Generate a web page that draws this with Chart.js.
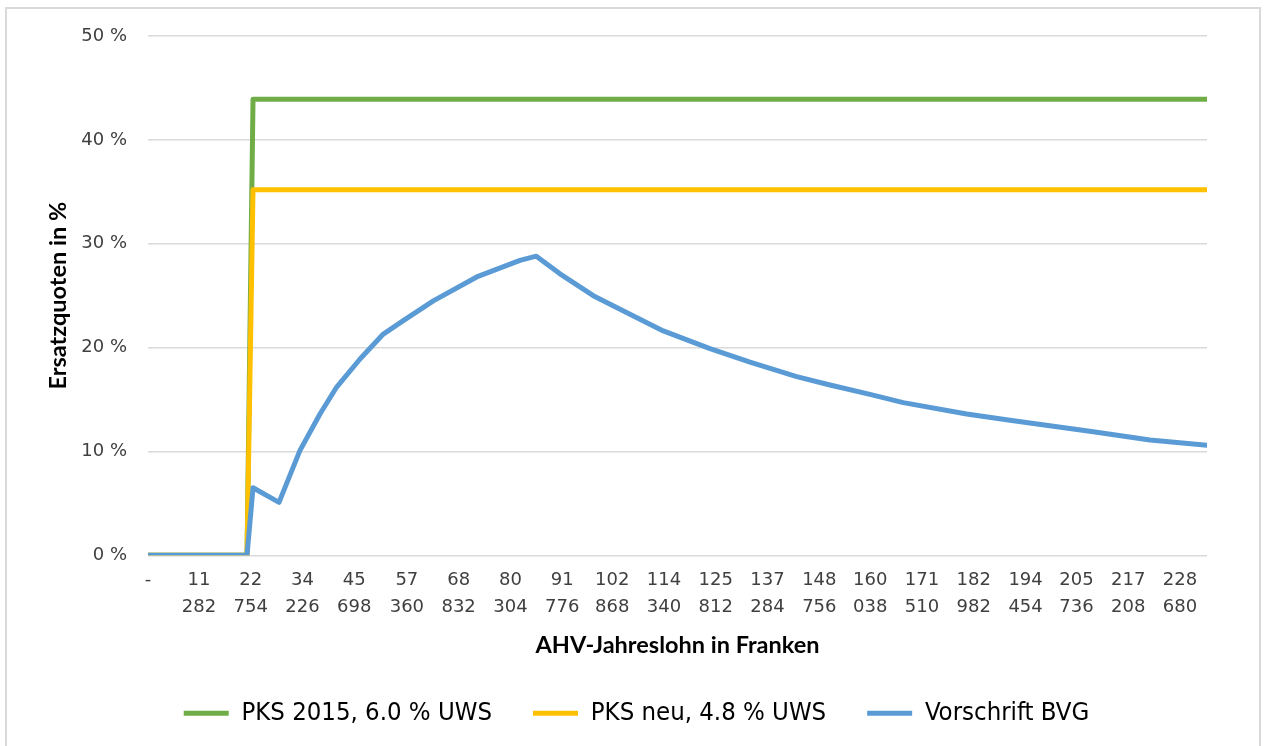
<!DOCTYPE html>
<html lang="de">
<head>
<meta charset="utf-8">
<script src="https://cdn.jsdelivr.net/npm/chart.js@4"></script>
<style>
    body { margin: 0; background: #fff; }
    #rahmen {
        position: absolute; left: 5px; top: 7px;
        width: 1252px; height: 760px;
        border: 2px solid #d9d9d9;
    }
    #wrap { position: absolute; left: 0; top: 0; width: 1265px; height: 746px; }
</style>
</head>
<body>
<div id="rahmen"></div>
<div id="wrap"><canvas id="grafik" width="1265" height="746"></canvas></div>
<script>
// Beschriftungen der x-Achse (AHV-Jahreslohn in Franken)
const tickLabels = ['-', '11 282', '22 754', '34 226', '45 698', '57 360', '68 832', '80 304',
    '91 776', '102 868', '114 340', '125 812', '137 284', '148 756', '160 038', '171 510',
    '182 982', '194 454', '205 736', '217 208', '228 680'];

// Ersatzquoten der beiden PKS-Varianten (Stufe bei der Eintrittsschwelle)
const lohnPKS = [0, 21940, 23270, 234660];
const pks2015 = [0, 0, 43.9, 43.9];
const pksNeu  = [0, 0, 35.2, 35.2];

// Ersatzquote nach BVG-Minimum
const lohnBVG = [0, 21940, 23270, 29030, 33680, 38110, 41810, 46980, 52140, 56570, 63220,
    72840, 82430, 86040, 91290, 98670, 106800, 114180, 124530, 133390, 143740, 151120,
    159980, 167360, 181410, 191000, 209460, 222020, 234660];
const bvg = [0, 0, 6.5, 5.1, 10.1, 13.6, 16.2, 18.9, 21.3, 22.6, 24.5,
    26.8, 28.4, 28.8, 27.1, 25.0, 23.2, 21.6, 19.9, 18.6, 17.2, 16.4,
    15.5, 14.7, 13.6, 13.0, 11.9, 11.1, 10.6];

const tickWerte = tickLabels.map(l => Number(l.replace(' ', '')) || 0);
const punkte = (xs, ys) => xs.map((x, i) => ({ x: x, y: ys[i] }));

const grau = '#d9d9d9';
const tickFont = { family: 'DejaVu Sans', size: 18, lineHeight: 1.5 };
const titelFont = { family: 'Lato', size: 23.5, weight: 'bold' };

function linie(label, daten, farbe, order) {
    return {
        label: label,
        data: daten,
        borderColor: farbe,
        backgroundColor: farbe,
        borderWidth: 5,
        borderJoinStyle: 'round',
        borderCapStyle: 'round',
        pointRadius: 0,
        tension: 0,
        fill: false,
        order: order
    };
}

// Legende etwas nach rechts schieben (in Excel ist sie über die ganze Breite zentriert)
const legendeVerschieben = {
    id: 'legendeVerschieben',
    afterLayout: chart => {
        chart.legend.left += 33;
        chart.legend.right += 33;
    }
};

new Chart(document.getElementById('grafik'), {
    type: 'line',
    data: {
        datasets: [
            linie('PKS 2015, 6.0 % UWS', punkte(lohnPKS, pks2015), '#70ad47', 2),
            linie('PKS neu, 4.8 % UWS', punkte(lohnPKS, pksNeu), '#ffc000', 1),
            linie('Vorschrift BVG', punkte(lohnBVG, bvg), '#5b9bd5', 0)
        ]
    },
    plugins: [legendeVerschieben],
    options: {
        responsive: false,
        animation: false,
        layout: { padding: { left: 0, top: 36, right: 58, bottom: 10 } },
        plugins: {
            tooltip: { enabled: false },
            legend: {
                position: 'bottom',
                labels: {
                    boxWidth: 45,
                    boxHeight: 5,
                    useBorderRadius: true,
                    borderRadius: 2.5,
                    padding: 41,
                    color: '#000',
                    font: { family: "'Liberation Sans Narrow', 'DejaVu Sans Condensed', sans-serif", size: 25.5 },
                    generateLabels: chart => chart.data.datasets.map((ds, i) => ({
                        text: ds.label,
                        fillStyle: ds.borderColor,
                        strokeStyle: ds.borderColor,
                        lineWidth: 0,
                        datasetIndex: i
                    }))
                }
            }
        },
        scales: {
            x: {
                type: 'linear',
                min: 0,
                max: 234660,
                afterBuildTicks: axis => { axis.ticks = tickWerte.map(v => ({ value: v })); },
                grid: { display: false, drawTicks: false },
                border: { display: false },
                ticks: {
                    autoSkip: false,
                    maxRotation: 0,
                    padding: 12,
                    color: '#404040',
                    font: tickFont,
                    callback: (v, i) => tickLabels[i].split(' ')
                },
                title: {
                    display: true,
                    text: 'AHV-Jahreslohn in Franken',
                    color: '#000',
                    font: titelFont,
                    padding: { top: -2, bottom: 0 }
                }
            },
            y: {
                min: 0,
                max: 50,
                afterFit: s => { s.width = 148; },
                grid: { color: grau, lineWidth: 1.5, drawTicks: false },
                border: { display: false },
                ticks: {
                    stepSize: 10,
                    padding: 21,
                    color: '#404040',
                    font: tickFont,
                    callback: v => v + ' %'
                },
                title: {
                    display: true,
                    text: 'Ersatzquoten in %',
                    color: '#000',
                    font: titelFont,
                    padding: { top: 44, bottom: 0 }
                }
            }
        }
    }
});
</script>
</body>
</html>
